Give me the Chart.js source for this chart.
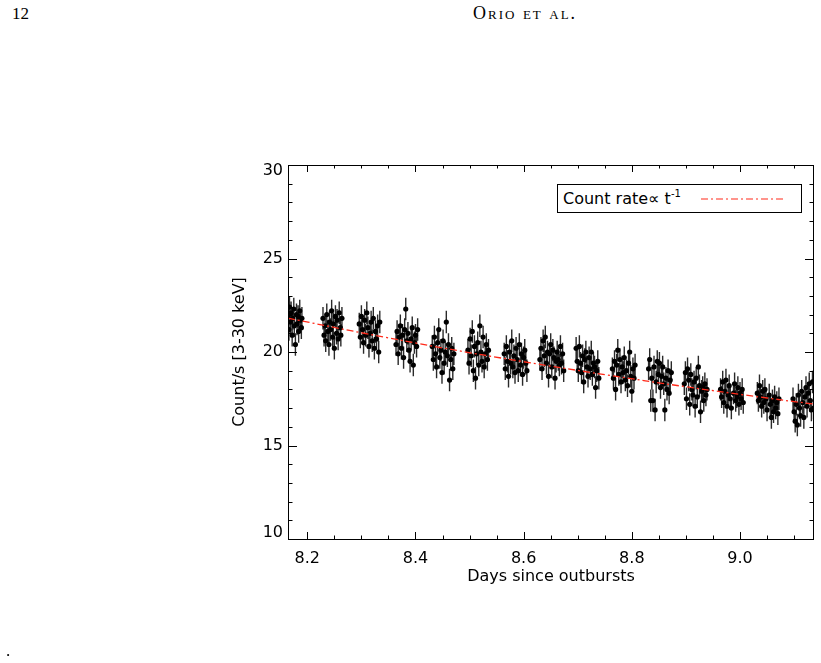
<!DOCTYPE html>
<html>
<head>
<meta charset="utf-8">
<script src="https://cdn.jsdelivr.net/npm/chart.js@4.4.0/dist/chart.umd.min.js"></script>
<style>
  html, body { margin: 0; padding: 0; background: #fff; }
  body { width: 821px; height: 663px; position: relative; overflow: hidden; }
  #plot { position: absolute; left: 0; top: 0; }
  .page { position: absolute; font-family: "Liberation Serif", "DejaVu Serif", serif; font-size: 17px; color: #000; }
  #pageno { left: 12px; top: 4px; }
  #runhead { left: 473px; top: 3px; font-size: 18px; font-variant: small-caps; letter-spacing: 2px; }
  #dot { left: 6px; top: 641px; }
  #legend {
    position: absolute; left: 557px; top: 184px; width: 245px; height: 29px;
    box-sizing: border-box; border: 1px solid #000; background: #fff;
    font-family: "DejaVu Sans", sans-serif; font-size: 16px; color: #000;
  }
  #legend .lbl { position: absolute; left: 5px; top: 4px; white-space: nowrap; }
  #legend sup { font-size: 10px; vertical-align: 0; position: relative; top: -7px; }
  #legend svg { position: absolute; left: 143px; top: 0; }
</style>
</head>
<body>
<div class="page" id="pageno">12</div>
<div class="page" id="runhead">Orio et al.</div>
<canvas id="plot" width="821" height="663"></canvas>
<div id="legend">
  <span class="lbl">Count rate&#8733; t<sup>-1</sup></span>
  <svg width="90" height="27"><line x1="0" y1="14" x2="85" y2="14" stroke="#ff2a1a" stroke-width="1.2" stroke-dasharray="7 3 2 3"/></svg>
</div>
<div class="page" id="dot">.</div>

<script>
// light curve, one line per satellite orbit
const days = [
  8.164, 8.166, 8.167, 8.169, 8.170, 8.172, 8.173, 8.175, 8.176, 8.178, 8.180, 8.181, 8.183, 8.184, 8.186, 8.187, 8.189, 8.190,
  8.229, 8.231, 8.233, 8.234, 8.236, 8.238, 8.240, 8.241, 8.243, 8.245, 8.247, 8.248, 8.250, 8.252, 8.254, 8.255, 8.257, 8.259, 8.261, 8.262, 8.264,
  8.296, 8.298, 8.300, 8.302, 8.304, 8.306, 8.308, 8.310, 8.312, 8.314, 8.316, 8.318, 8.320, 8.322, 8.324, 8.326, 8.328, 8.330, 8.332, 8.334,
  8.364, 8.366, 8.368, 8.370, 8.372, 8.374, 8.376, 8.378, 8.380, 8.382, 8.384, 8.386, 8.388, 8.390, 8.392, 8.394, 8.396, 8.398, 8.400, 8.402, 8.404,
  8.431, 8.433, 8.435, 8.437, 8.439, 8.441, 8.443, 8.445, 8.447, 8.449, 8.451, 8.453, 8.455, 8.457, 8.459, 8.461, 8.463, 8.465, 8.467, 8.469, 8.471,
  8.497, 8.499, 8.501, 8.503, 8.505, 8.507, 8.509, 8.511, 8.513, 8.515, 8.517, 8.519, 8.521, 8.523, 8.525, 8.527, 8.529, 8.531, 8.533, 8.535,
  8.564, 8.566, 8.568, 8.570, 8.572, 8.574, 8.576, 8.578, 8.580, 8.582, 8.584, 8.586, 8.588, 8.590, 8.592, 8.594, 8.596, 8.598, 8.600, 8.602, 8.604, 8.606,
  8.630, 8.632, 8.634, 8.636, 8.638, 8.640, 8.642, 8.644, 8.646, 8.648, 8.650, 8.652, 8.654, 8.656, 8.658, 8.660, 8.662, 8.664, 8.666, 8.668, 8.670, 8.672, 8.674,
  8.697, 8.699, 8.701, 8.703, 8.705, 8.707, 8.709, 8.711, 8.713, 8.715, 8.717, 8.719, 8.721, 8.723, 8.725, 8.727, 8.729, 8.731, 8.733, 8.735, 8.737, 8.739,
  8.764, 8.766, 8.768, 8.770, 8.772, 8.774, 8.776, 8.778, 8.780, 8.782, 8.784, 8.786, 8.788, 8.790, 8.792, 8.794, 8.796, 8.798, 8.800, 8.802, 8.804, 8.806,
  8.831, 8.833, 8.835, 8.837, 8.839, 8.841, 8.843, 8.845, 8.847, 8.849, 8.851, 8.853, 8.855, 8.857, 8.859, 8.861, 8.863, 8.865, 8.867, 8.869, 8.871, 8.873,
  8.897, 8.899, 8.901, 8.903, 8.905, 8.907, 8.909, 8.911, 8.913, 8.915, 8.917, 8.919, 8.921, 8.923, 8.925, 8.927, 8.929, 8.931, 8.933, 8.935, 8.937, 8.939,
  8.964, 8.966, 8.968, 8.970, 8.972, 8.974, 8.976, 8.978, 8.980, 8.982, 8.984, 8.988, 8.990, 8.992, 8.994, 8.996, 8.998, 9.000, 9.002, 9.004, 9.006,
  9.032, 9.034, 9.036, 9.038, 9.040, 9.042, 9.044, 9.046, 9.048, 9.050, 9.054, 9.056, 9.058, 9.060, 9.062, 9.064, 9.066, 9.068, 9.070, 9.072,
  9.098, 9.100, 9.102, 9.104, 9.106, 9.108, 9.110, 9.112, 9.114, 9.116, 9.118, 9.120, 9.122, 9.124, 9.126, 9.128, 9.130, 9.132, 9.134, 9.136
];
const rates = [
  21.9, 21.2, 22.4, 21.6, 22.1, 20.9, 21.8, 22.3, 21.4, 20.4, 22.0, 21.5, 21.9, 21.1, 22.2, 21.7, 21.3, 21.8,
  21.8, 20.9, 21.4, 20.6, 22.0, 21.1, 20.4, 21.6, 21.2, 22.2, 20.8, 21.5, 20.2, 21.9, 21.0, 21.7, 20.7, 22.1, 21.3, 20.9, 21.8,
  21.5, 20.8, 21.9, 21.2, 20.5, 21.7, 20.9, 22.1, 21.3, 20.3, 21.0, 21.6, 20.6, 21.8, 20.2, 21.1, 20.7, 21.4, 20.0, 21.6,
  20.4, 21.1, 19.9, 20.8, 21.4, 20.2, 20.9, 19.7, 21.2, 22.3, 20.6, 21.0, 20.1, 19.5, 20.7, 21.3, 19.3, 20.5, 20.9, 20.3, 21.2,
  20.3, 19.6, 20.8, 19.9, 19.2, 20.5, 21.2, 19.7, 20.1, 18.9, 20.6, 19.4, 20.0, 21.6, 19.8, 20.4, 18.5, 19.6, 20.2, 19.1, 19.9,
  20.1, 19.4, 20.7, 19.8, 21.1, 19.0, 20.3, 18.6, 19.9, 20.5, 19.3, 21.4, 20.0, 19.5, 20.8, 19.2, 19.9, 20.4, 19.6, 20.1,
  19.9, 19.1, 20.3, 19.5, 18.7, 20.0, 19.4, 20.6, 19.2, 19.8, 18.9, 20.2, 19.6, 19.0, 20.4, 19.3, 19.9, 18.8, 19.7, 20.1, 19.4, 19.0,
  19.6, 20.2, 19.1, 20.6, 19.8, 20.8, 19.4, 20.0, 18.7, 19.9, 20.4, 19.2, 20.1, 19.7, 18.6, 19.5, 20.0, 19.6, 19.3, 20.3, 19.4, 19.9, 19.0,
  20.2, 19.5, 19.0, 20.3, 19.4, 18.9, 19.8, 18.4, 19.6, 20.0, 19.2, 18.7, 19.7, 19.1, 20.0, 18.8, 19.4, 19.2, 18.1, 19.0, 19.5, 18.6,
  19.1, 18.6, 19.5, 18.0, 19.3, 20.1, 18.8, 19.6, 18.4, 19.2, 18.9, 19.7, 18.5, 19.0, 18.2, 19.4, 20.0, 18.7, 17.9, 19.1, 18.6, 19.3,
  19.1, 19.6, 17.4, 18.6, 17.4, 19.2, 16.9, 18.4, 19.5, 18.8, 19.4, 18.1, 18.7, 19.2, 18.3, 16.9, 18.6, 18.0, 19.0, 17.8, 18.5, 18.9,
  18.3, 18.9, 17.5, 19.1, 18.5, 17.2, 18.8, 18.0, 17.7, 18.4, 17.1, 18.6, 17.6, 19.2, 18.2, 16.8, 17.9, 18.1, 17.4, 18.3, 17.7, 18.0,
  18.0, 17.6, 18.4, 17.3, 17.9, 18.5, 17.1, 17.7, 18.2, 17.5, 17.0, 17.8, 18.3, 17.4, 17.6, 18.1, 17.2, 17.8, 17.5, 18.0, 17.3,
  17.8, 17.4, 18.2, 17.6, 17.1, 17.9, 17.3, 18.0, 17.5, 16.9, 17.7, 17.2, 16.5, 17.4, 16.8, 17.6, 17.0, 17.3, 16.7, 17.5,
  17.5, 16.8, 16.3, 17.2, 16.1, 17.7, 17.0, 16.6, 17.9, 17.3, 16.5, 17.6, 18.1, 17.1, 17.8, 18.3, 17.4, 16.9, 18.4, 17.0
];
const rateErr = 0.6;

// t^-1 decline
const modelDays = [8.164, 8.30, 8.45, 8.60, 8.75, 8.90, 9.05, 9.137];
const modelRates = [21.81, 21.03, 20.22, 19.48, 18.79, 18.14, 17.54, 17.21];

const xTicks = [8.2, 8.4, 8.6, 8.8, 9.0];
const yTicks = [10, 15, 20, 25, 30];
const xRange = [8.1643, 9.1368];
const yRange = [10, 30];

const FONT = '"DejaVu Sans", sans-serif';

// error bars, drawn under the dots
const errorBars = {
  id: 'errorBars',
  beforeDatasetsDraw(chart) {
    const { ctx, chartArea: a, scales: { x, y } } = chart;
    ctx.save();
    ctx.beginPath();
    ctx.rect(a.left, a.top, a.right - a.left, a.bottom - a.top);
    ctx.clip();
    ctx.strokeStyle = '#2a2a2a';
    ctx.lineWidth = 1.4;
    ctx.beginPath();
    days.forEach((d, i) => {
      const px = x.getPixelForValue(d);
      ctx.moveTo(px, y.getPixelForValue(rates[i] + rateErr));
      ctx.lineTo(px, y.getPixelForValue(rates[i] - rateErr));
    });
    ctx.stroke();
    ctx.restore();
  }
};

// IDL style box: inward ticks on all four sides, end labels kept inside the box
const frame = {
  id: 'frame',
  afterDraw(chart) {
    const { ctx, chartArea: a, scales: { x, y } } = chart;
    ctx.save();
    ctx.strokeStyle = '#000';
    ctx.lineWidth = 1;
    ctx.strokeRect(a.left + 0.5, a.top + 0.5, a.right - a.left - 1, a.bottom - a.top);
    ctx.beginPath();
    for (let v = 8.15; v <= xRange[1]; v += 0.05) {
      if (v < xRange[0]) continue;
      const px = Math.round(x.getPixelForValue(v)) + 0.5;
      const major = xTicks.some(t => Math.abs(t - v) < 1e-6);
      const len = major ? 7 : 3.5;
      ctx.moveTo(px, a.bottom); ctx.lineTo(px, a.bottom - len);
      ctx.moveTo(px, a.top); ctx.lineTo(px, a.top + len);
    }
    for (let v = yRange[0] + 1; v < yRange[1]; v += 1) {
      const py = Math.round(y.getPixelForValue(v)) + 0.5;
      const len = v % 5 === 0 ? 9 : 4.5;
      ctx.moveTo(a.left, py); ctx.lineTo(a.left + len, py);
      ctx.moveTo(a.right, py); ctx.lineTo(a.right - len, py);
    }
    ctx.stroke();

    ctx.fillStyle = '#000';
    ctx.font = '16px ' + FONT;
    ctx.textAlign = 'right';
    ctx.textBaseline = 'middle';
    yTicks.forEach(v => {
      let py = y.getPixelForValue(v);
      py = Math.min(Math.max(py, a.top + 6), a.bottom - 6);
      ctx.fillText(String(v), a.left - 5, py);
    });
    ctx.restore();
  }
};

new Chart(document.getElementById('plot'), {
  type: 'scatter',
  data: {
    datasets: [
      {
        label: 'Count rate \u221d t^-1',
        data: modelDays.map((d, i) => ({ x: d, y: modelRates[i] })),
        showLine: true,
        borderColor: '#ff2a1a',
        borderWidth: 1.3,
        borderDash: [7, 3, 2, 3],
        pointRadius: 0,
        tension: 0.4,
        order: 0
      },
      {
        label: 'data',
        data: days.map((d, i) => ({ x: d, y: rates[i] })),
        pointRadius: 2.6,
        pointBackgroundColor: '#000',
        pointBorderWidth: 0,
        order: 1
      }
    ]
  },
  options: {
    responsive: false,
    animation: false,
    events: [],
    layout: { padding: { left: 0, right: 7, top: 165, bottom: 0 } },
    plugins: { legend: { display: false }, tooltip: { enabled: false } },
    scales: {
      x: {
        type: 'linear',
        min: xRange[0],
        max: xRange[1],
        grid: { display: false, drawTicks: false },
        border: { display: false },
        afterBuildTicks: s => { s.ticks = xTicks.map(v => ({ value: v })); },
        afterFit: s => { s.height = 663 - 539; },
        ticks: {
          color: '#000', padding: 10, maxRotation: 0,
          font: { family: FONT, size: 16 },
          callback: v => v.toFixed(1)
        },
        title: {
          display: true, text: 'Days since outbursts', color: '#000',
          font: { family: FONT, size: 16 },
          padding: { top: 0, bottom: 77 }
        }
      },
      y: {
        type: 'linear',
        min: yRange[0],
        max: yRange[1],
        grid: { display: false, drawTicks: false },
        border: { display: false },
        afterBuildTicks: s => { s.ticks = yTicks.map(v => ({ value: v })); },
        afterFit: s => { s.width = 288; },
        ticks: { display: false },
        title: {
          display: true, text: 'Count/s [3-30 keV]', color: '#000',
          font: { family: FONT, size: 16 },
          padding: { top: 230, bottom: 0 }
        }
      }
    }
  },
  plugins: [errorBars, frame]
});
</script>
</body>
</html>
